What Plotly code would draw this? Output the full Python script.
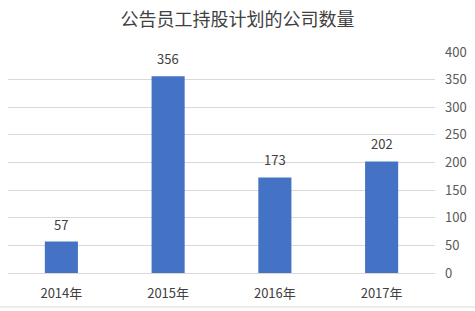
import plotly.graph_objects as go

categories = ["2014年", "2015年", "2016年", "2017年"]
values = [57, 356, 173, 202]
y_ticks = [0, 50, 100, 150, 200, 250, 300, 350, 400]

W, H = 475, 311
ml, mr, mt, mb = 8, 40, 52, 38
pw, ph = W - ml - mr, H - mt - mb

fig = go.Figure(go.Bar(
    x=categories, y=values,
    marker=dict(color="#4472C4", line=dict(width=0)),
    cliponaxis=False,
))

for c, v in zip(categories, values):
    fig.add_annotation(x=c, y=v, text=str(v), showarrow=False,
                       yanchor="bottom", yshift=6,
                       font=dict(size=13, color="#404040", family="Noto Sans CJK SC"))

fig.update_layout(
    width=W, height=H,
    margin=dict(l=ml, r=mr, t=mt, b=mb),
    paper_bgcolor="white", plot_bgcolor="white",
    bargap=0.69,
    showlegend=False,
    font=dict(family="Noto Sans CJK SC", size=13, color="#595959"),
    title=dict(text="公告员工持股计划的公司数量", x=0.5, xanchor="center",
               y=1 - 20 / H, yanchor="middle",
               font=dict(size=18, color="#404040", family="Noto Sans CJK SC")),
    xaxis=dict(showgrid=False, showline=True, linecolor="#d9d9d9", linewidth=1,
               ticks="", tickfont=dict(size=13, color="#404040"),
               ticklabelstandoff=8),
    yaxis=dict(side="right", range=[0, 400], tickvals=y_ticks,
               showgrid=True, gridcolor="#d9d9d9", gridwidth=1,
               zeroline=False, showline=False, ticks="",
               tickfont=dict(size=13, color="#595959"), ticklabelstandoff=9),
    shapes=[dict(type="line", xref="paper", yref="paper",
                 x0=-ml / pw, x1=(W - ml) / pw,
                 y0=-(307 - (mt + ph)) / ph, y1=-(307 - (mt + ph)) / ph,
                 line=dict(color="#d9d9d9", width=1))],
)

fig.write_html("out.html")
